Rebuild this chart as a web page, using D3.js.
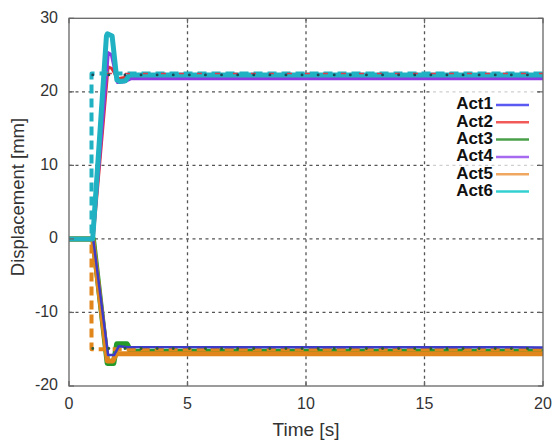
<!DOCTYPE html>
<html>
<head>
<meta charset="utf-8">
<script src="https://cdn.jsdelivr.net/npm/d3@7"></script>
<style>
  html, body { margin: 0; padding: 0; background: #fff; }
  svg { display: block; }
</style>
</head>
<body>
<svg id="chart" width="555" height="444"></svg>
<script>
// Axis ticks
const xTicks = [0, 5, 10, 15, 20];
const yTicks = [-20, -10, 0, 10, 20, 30];

// Actuator responses: time [s] and displacement [mm]
const act1Time = [0, 1.02, 1.65, 1.9, 2.1, 2.4, 20];
const act1Disp = [0, 0, -15.8, -15.8, -14.6, -14.7, -14.75];

const act2Time = [0, 1.02, 1.65, 1.8, 2.05, 2.4, 20];
const act2Disp = [0, 0, 23.4, 23.2, 21.8, 22.0, 22.2];

const act3Time = [0, 1.02, 1.62, 1.88, 2.02, 2.45, 2.6, 20];
const act3Disp = [0, 0, -16.9, -16.9, -14.3, -14.3, -15.3, -15.3];

const act4Time = [0, 1.0, 1.65, 1.8, 2.05, 2.35, 2.6, 20];
const act4Disp = [0, 0, 25.3, 25.0, 21.3, 21.4, 21.8, 21.8];

const act5Time = [0, 1.0, 1.62, 1.85, 2.0, 20];
const act5Disp = [0, 0, -16.6, -16.6, -15.6, -15.6];

const act6Time = [0, 1.0, 1.58, 1.62, 1.82, 2.02, 2.15, 2.38, 2.55, 20];
const act6Disp = [0, 0, 27.6, 27.9, 27.6, 21.6, 21.4, 21.5, 22.3, 22.3];

// Commanded steps
const cmdUpTime = [0, 0.95, 0.95, 20];
const cmdUpDisp = [0, 0, 22.5, 22.5];
const cmdDownTime = [0, 0.95, 0.95, 20];
const cmdDownDisp = [0, 0, -15, -15];
const cmdUpRedTime = [1.6, 20];
const cmdUpRedDisp = [22.5, 22.5];
const markUpTime = [1.0, 20];
const markUpDisp = [22.3, 22.3];
const markDownTime = [1.0, 20];
const markDownDisp = [-14.9, -14.9];

const legendNames = ["Act1", "Act2", "Act3", "Act4", "Act5", "Act6"];
const legendColors = ["#5a5af2", "#f25a5a", "#4aa04a", "#a66af0", "#f0a860", "#33d0d0"];

const svg = d3.select("#chart");
const W = 555, H = 444;
const margin = { left: 69, right: 12, top: 18.3, bottom: 58 };

const x = d3.scaleLinear().domain([0, 20]).range([margin.left, W - margin.right]);
const y = d3.scaleLinear().domain([-20, 30]).range([H - margin.bottom, margin.top]);

const fontFamily = "'Liberation Sans', Arial, Helvetica, sans-serif";

// Grid lines
const grid = svg.append("g");
grid.selectAll("line.vx").data(xTicks.slice(1, -1)).join("line")
  .attr("x1", d => x(d)).attr("x2", d => x(d))
  .attr("y1", y(30)).attr("y2", y(-20))
  .attr("stroke", "#555").attr("stroke-width", 1.3).attr("stroke-dasharray", "3,3.5");
grid.selectAll("line.hy").data(yTicks.slice(1, -1)).join("line")
  .attr("y1", d => y(d)).attr("y2", d => y(d))
  .attr("x1", x(0)).attr("x2", x(20))
  .attr("stroke", "#555").attr("stroke-width", 1.3).attr("stroke-dasharray", "3,3.5");

// Legend backdrop (semi-transparent so grid shows through faintly)
svg.append("rect")
  .attr("x", 432).attr("y", 87).attr("width", 105).attr("height", 118)
  .attr("fill", "#fff").attr("opacity", 0.72);

const line = d3.line().x(d => x(d[0])).y(d => y(d[1]));
const pts = (t, v) => t.map((ti, i) => [ti, v[i]]);

function draw(t, v, color, width, dash, cap) {
  svg.append("path")
    .attr("d", line(pts(t, v)))
    .attr("fill", "none")
    .attr("stroke", color)
    .attr("stroke-width", width)
    .attr("stroke-linejoin", "round")
    .attr("stroke-linecap", cap || "butt")
    .attr("stroke-dasharray", dash || null);
}

// Lower group
draw(act3Time, act3Disp, "#239a2a", 5.5);
draw(act5Time, act5Disp, "#e0861a", 5);
draw(cmdDownTime, cmdDownDisp, "#e0861a", 4, "9,5");
draw(act1Time, act1Disp, "#3c3cc8", 2.5);
draw(markDownTime, markDownDisp, "#2a5a3a", 2.8, "0.1,16", "round");

// Upper group
draw(act2Time, act2Disp, "#e03030", 3);
draw(act4Time, act4Disp, "#8a3ee0", 3.5);
draw(cmdUpTime, cmdUpDisp, "#20b2c2", 4, "9,5");
draw(act6Time, act6Disp, "#20b2c2", 5);
draw(cmdUpRedTime, cmdUpRedDisp, "#e03a4a", 1.6, "5,13");
draw(markUpTime, markUpDisp, "#1a4a5a", 2.8, "0.1,16", "round");

// Frame
svg.append("rect")
  .attr("x", x(0)).attr("y", y(30))
  .attr("width", x(20) - x(0)).attr("height", y(-20) - y(30))
  .attr("fill", "none").attr("stroke", "#666").attr("stroke-width", 1.3);

// Inward ticks
const tk = svg.append("g").attr("stroke", "#666").attr("stroke-width", 1.2);
xTicks.forEach(d => {
  tk.append("line").attr("x1", x(d)).attr("x2", x(d)).attr("y1", y(-20)).attr("y2", y(-20) - 5);
  tk.append("line").attr("x1", x(d)).attr("x2", x(d)).attr("y1", y(30)).attr("y2", y(30) + 5);
});
yTicks.forEach(d => {
  tk.append("line").attr("y1", y(d)).attr("y2", y(d)).attr("x1", x(0)).attr("x2", x(0) + 5);
  tk.append("line").attr("y1", y(d)).attr("y2", y(d)).attr("x1", x(20)).attr("x2", x(20) - 5);
});

// Tick labels
svg.append("g").selectAll("text").data(xTicks).join("text")
  .attr("x", d => x(d)).attr("y", 405)
  .attr("text-anchor", "middle").attr("dominant-baseline", "middle")
  .attr("font-family", fontFamily).attr("font-size", 16).attr("fill", "#333")
  .text(d => d);
svg.append("g").selectAll("text").data(yTicks).join("text")
  .attr("x", 58).attr("y", d => y(d))
  .attr("text-anchor", "end").attr("dominant-baseline", "middle")
  .attr("font-family", fontFamily).attr("font-size", 16).attr("fill", "#333")
  .text(d => d);

// Axis titles
svg.append("text")
  .attr("x", 306).attr("y", 431)
  .attr("text-anchor", "middle").attr("dominant-baseline", "middle")
  .attr("font-family", fontFamily).attr("font-size", 19).attr("fill", "#333")
  .text("Time [s]");
svg.append("text")
  .attr("transform", "translate(19,197) rotate(-90)")
  .attr("text-anchor", "middle").attr("dominant-baseline", "middle")
  .attr("font-family", fontFamily).attr("font-size", 18.5).attr("fill", "#333")
  .text("Displacement [mm]");

// Legend
const lg = svg.append("g");
legendNames.forEach((name, i) => {
  const ly = 105 + i * 17.3;
  lg.append("text")
    .attr("x", 493).attr("y", ly)
    .attr("text-anchor", "end").attr("dominant-baseline", "middle")
    .attr("font-family", fontFamily).attr("font-weight", "bold")
    .attr("font-size", 17).attr("fill", "#111")
    .text(name);
  lg.append("line")
    .attr("x1", 496).attr("x2", 529).attr("y1", ly).attr("y2", ly)
    .attr("stroke", legendColors[i]).attr("stroke-width", 2.5);
});
</script>
</body>
</html>
